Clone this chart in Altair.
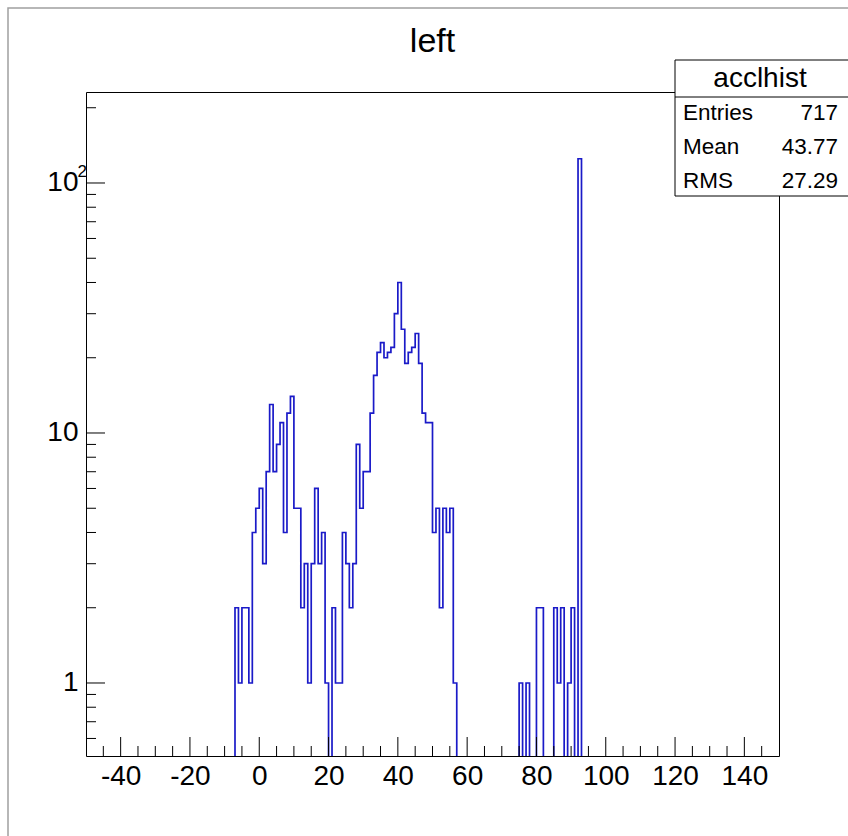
import altair as alt
import pandas as pd

# Histogram "acclhist": 200 bins of width 1 between -50 and 150
X_RANGE = (-50, 150)
Y_RANGE = (0.5105, 231.2)

# lower edge of every non-empty bin and its number of entries
bin_low = [-7, -6, -5, -4, -3, -2, -1,
           0, 1, 2, 3, 4, 5, 6, 7, 8, 9,
           10, 11, 12, 13, 14, 15, 16, 17, 18, 19,
           21, 22, 23, 24, 25, 26, 27, 28, 29,
           30, 31, 32, 33, 34, 35, 36, 37, 38, 39,
           40, 41, 42, 43, 44, 45, 46, 47, 48, 49,
           50, 51, 52, 53, 54, 55, 56,
           75, 77, 80, 81, 85, 86, 87, 89, 90, 92]
bin_count = [2, 1, 2, 2, 1, 4, 5,
             6, 3, 7, 13, 7, 9, 11, 4, 12, 14,
             5, 5, 2, 3, 1, 3, 6, 3, 4, 1,
             2, 1, 1, 4, 3, 2, 3, 9, 5,
             7, 7, 12, 17, 21, 23, 20, 21, 22, 30,
             40, 26, 19, 21, 22, 25, 19, 12, 11, 11,
             4, 5, 2, 5, 4, 5, 1,
             1, 1, 2, 2, 2, 1, 2, 1, 2, 125]

stat_names = ["Entries", "Mean", "RMS"]
stat_values = ["717", "43.77", "27.29"]
hist_name = "acclhist"
title_text = "left"

x_major = [-40, -20, 0, 20, 40, 60, 80, 100, 120, 140]
x_minor = [-45, -35, -30, -25, -15, -10, -5, 5, 10, 15, 25, 30, 35, 45, 50, 55,
           65, 70, 75, 85, 90, 95, 105, 110, 115, 125, 130, 135, 145]
y_major = [1, 10, 100]
y_minor = [0.6, 0.7, 0.8, 0.9, 2, 3, 4, 5, 6, 7, 8, 9,
           20, 30, 40, 50, 60, 70, 80, 90, 200]

W, H = 693, 664
FONT = "Liberation Sans"
LINE = "#1a1ac8"
FLOOR = 0.1  # empty bins drop below the frame and are clipped

filled = dict(zip(bin_low, bin_count))
edges = list(range(X_RANGE[0], X_RANGE[1] + 1))
counts = [filled.get(min(e, X_RANGE[1] - 1), 0) or FLOOR for e in edges]
hist = pd.DataFrame({"edge": edges, "count": counts})

xscale = alt.Scale(domain=list(X_RANGE), nice=False, zero=False)
yscale = alt.Scale(type="log", domain=list(Y_RANGE), nice=False)

x_axis = alt.Axis(values=x_major, ticks=False, domain=False, grid=False,
                  labelExpr="'' + datum.value",
                  labelFont=FONT, labelFontSize=28, labelColor="black",
                  labelPadding=6, title=None)
# 10^2 is written as "10" plus a raised exponent drawn separately
y_axis = alt.Axis(values=y_major, ticks=False, domain=False, grid=False,
                  labelExpr="datum.value >= 100 ? '10' : '' + datum.value",
                  labelFont=FONT, labelFontSize=28, labelColor="black",
                  labelPadding=8, title=None)

one = pd.DataFrame({"k": [0]})

hist_line = alt.Chart(hist).mark_line(
    interpolate="step-after", color=LINE, strokeWidth=1.7, clip=True
).encode(
    x=alt.X("edge:Q", scale=xscale, axis=x_axis),
    y=alt.Y("count:Q", scale=yscale, axis=y_axis),
)


def x_ticks(vals, length):
    return alt.Chart(pd.DataFrame({"edge": vals})).mark_rule(color="black", strokeWidth=1).encode(
        x=alt.X("edge:Q", scale=xscale, axis=x_axis),
        y=alt.value(H), y2=alt.value(H - length))


def y_ticks(vals, length):
    return alt.Chart(pd.DataFrame({"count": vals})).mark_rule(color="black", strokeWidth=1).encode(
        y=alt.Y("count:Q", scale=yscale, axis=y_axis),
        x=alt.value(0), x2=alt.value(length))


exponent = alt.Chart(pd.DataFrame({"count": [100], "t": ["2"]})).mark_text(
    font=FONT, fontSize=17, align="left", baseline="middle", color="black", dy=-11
).encode(
    y=alt.Y("count:Q", scale=yscale, axis=y_axis),
    x=alt.value(-8.5), text="t:N")

# outer canvas border
border = alt.Chart(one).mark_rect(fillOpacity=0, stroke="#a0a0a0", strokeWidth=1.5).encode(
    x=alt.value(-78), x2=alt.value(800), y=alt.value(-84), y2=alt.value(800))

title = alt.Chart(pd.DataFrame({"t": [title_text]})).mark_text(
    font=FONT, fontSize=34, align="center", baseline="alphabetic", color="black"
).encode(x=alt.value(W / 2), y=alt.value(-40), text="t:N")

# statistics box
box = alt.Chart(one).mark_rect(fill="white", stroke="black", strokeWidth=1).encode(
    x=alt.value(589), x2=alt.value(770), y=alt.value(-32), y2=alt.value(104))
box_sep = alt.Chart(one).mark_rule(color="black", strokeWidth=1).encode(
    x=alt.value(589), x2=alt.value(770), y=alt.value(5))
box_head = alt.Chart(pd.DataFrame({"t": [hist_name]})).mark_text(
    font=FONT, fontSize=28, align="center", baseline="middle", color="black"
).encode(x=alt.value(674), y=alt.value(-13), text="t:N")

stat_layers = []
for i, (name, val) in enumerate(zip(stat_names, stat_values)):
    yy = 21 + 34 * i
    stat_layers.append(alt.Chart(pd.DataFrame({"t": [name]})).mark_text(
        font=FONT, fontSize=22.5, align="left", baseline="middle", color="black"
    ).encode(x=alt.value(597), y=alt.value(yy), text="t:N"))
    stat_layers.append(alt.Chart(pd.DataFrame({"t": [val]})).mark_text(
        font=FONT, fontSize=22.5, align="right", baseline="middle", color="black"
    ).encode(x=alt.value(752), y=alt.value(yy), text="t:N"))

chart = alt.layer(
    border, hist_line,
    x_ticks(x_major, 19), x_ticks(x_minor, 10),
    y_ticks(y_major, 19), y_ticks(y_minor, 10),
    exponent, title, box, box_sep, box_head, *stat_layers
).properties(
    width=W, height=H,
    padding={"left": 86, "top": 92, "right": 848 - 86 - W, "bottom": 836 - 92 - H},
    autosize=alt.AutoSizeParams(type="none"),
    background="white",
).configure_view(stroke="black", strokeWidth=1)

chart.save("out.html", embed_options={"renderer": "svg", "actions": False})
